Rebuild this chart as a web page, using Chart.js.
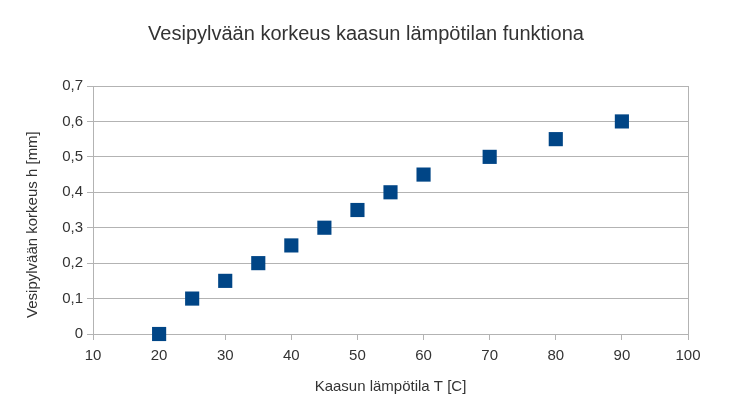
<!DOCTYPE html>
<html>
<head>
<meta charset="utf-8">
<script src="https://cdn.jsdelivr.net/npm/chart.js@4"></script>
<style>
  html, body { margin: 0; padding: 0; background: #fff; }
  #wrap { position: relative; width: 732px; height: 420px; }
</style>
</head>
<body>
<div id="wrap"><canvas id="chart"></canvas></div>
<script>
const temps   = [20, 25, 30, 35, 40, 45, 50, 55, 60, 70, 80, 90];
const heights = [0, 0.1, 0.15, 0.2, 0.25, 0.3, 0.35, 0.4, 0.45, 0.5, 0.55, 0.6];
const xRange  = [10, 100];
const yRange  = [0, 0.7];

const GRID = '#b3b3b3';
const TEXT = '#333333';
const FONT = 'Liberation Sans, Arial, sans-serif';

new Chart(document.getElementById('chart'), {
  type: 'scatter',
  data: {
    datasets: [{
      data: temps.map((t, i) => ({ x: t, y: heights[i] })),
      backgroundColor: '#004586',
      borderColor: '#004586',
      borderWidth: 0,
      pointStyle: 'rect',
      pointRadius: 10,
      pointHoverRadius: 10,
      clip: false,
    }]
  },
  options: {
    responsive: true,
    maintainAspectRatio: false,
    animation: false,
    layout: { padding: 0 },
    plugins: {
      legend: { display: false },
      tooltip: { enabled: false },
      title: {
        display: true,
        text: 'Vesipylvään korkeus kaasun lämpötilan funktiona',
        color: TEXT,
        font: { family: FONT, size: 20, weight: 'normal' },
        padding: { top: 22, bottom: 40 }
      }
    },
    scales: {
      x: {
        type: 'linear',
        min: xRange[0],
        max: xRange[1],
        afterFit: s => { s.height = 86; },
        ticks: { stepSize: 10, color: TEXT, font: { family: FONT, size: 15 }, padding: 7, maxRotation: 0 },
        grid: { color: 'rgba(0,0,0,0)', tickColor: GRID, tickLength: 6 },
        border: { color: GRID },
        title: {
          display: true,
          text: 'Kaasun lämpötila T [C]',
          color: TEXT,
          font: { family: FONT, size: 15 },
          padding: { top: 0, bottom: 24 }
        }
      },
      y: {
        type: 'linear',
        min: yRange[0],
        max: yRange[1],
        afterFit: s => { s.width = 93; },
        ticks: {
          stepSize: 0.1,
          color: TEXT,
          font: { family: FONT, size: 15 },
          padding: 4,
          callback: v => (Math.round(v * 10) / 10).toString().replace('.', ',')
        },
        grid: { color: GRID, tickColor: GRID, tickLength: 6 },
        border: { color: GRID },
        title: {
          display: true,
          // trailing spaces nudge the rotated label down like the original
          text: 'Vesipylvään korkeus h [mm]\u00a0\u00a0\u00a0\u00a0\u00a0\u00a0\u00a0',
          color: TEXT,
          font: { family: FONT, size: 15 },
          padding: { top: 24, bottom: 0 }
        }
      },
      // empty right axis: frame line + keeps the title centred on the page
      yRight: {
        type: 'linear',
        position: 'right',
        min: yRange[0],
        max: yRange[1],
        afterFit: s => { s.width = 44; },
        ticks: { display: false },
        grid: { drawOnChartArea: false, drawTicks: false },
        border: { color: GRID }
      }
    }
  }
});
</script>
</body>
</html>
